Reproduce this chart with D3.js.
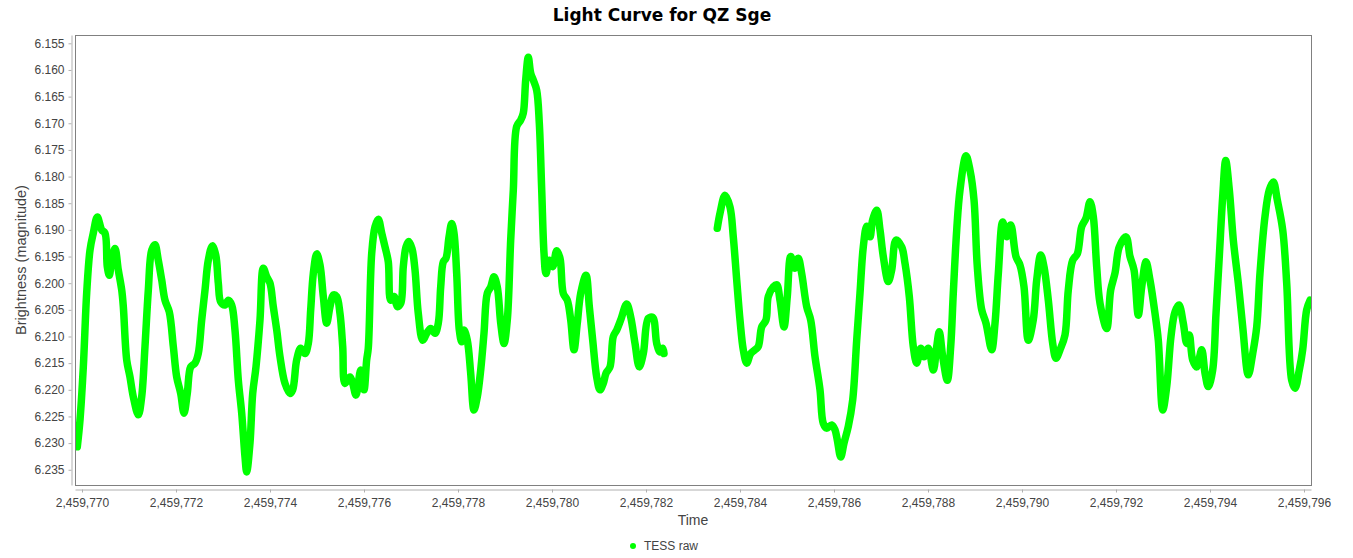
<!DOCTYPE html>
<html>
<head>
<meta charset="utf-8">
<script src="https://cdn.jsdelivr.net/npm/d3@7"></script>
<style>
  body { margin: 0; background: #fff; }
  svg { display: block; }
</style>
</head>
<body>
<div id="chart"></div>
<script>
const title = "Light Curve for QZ Sge";
const seriesName = "TESS raw";
const t0 = 2459770;

// days since t0
const days = [
  -0.100, -0.043, 0.028, 0.100, 0.170, 0.240, 0.326, 0.419, 0.489, 0.538,
  0.581, 0.632, 0.702, 0.772, 0.845, 0.879, 0.951, 1.021, 1.091, 1.198,
  1.270, 1.340, 1.411, 1.483, 1.553, 1.623, 1.696, 1.766, 1.857, 1.943,
  2.015, 2.100, 2.170, 2.240, 2.313, 2.404, 2.474, 2.547, 2.617, 2.687,
  2.772, 2.845, 2.900, 2.951, 3.043, 3.113, 3.185, 3.255, 3.326, 3.398,
  3.468, 3.504, 3.574, 3.632, 3.702, 3.787, 3.857, 3.930, 4.000, 4.070,
  4.143, 4.213, 4.319, 4.426, 4.483, 4.568, 4.653, 4.745, 4.815, 4.866,
  4.921, 4.994, 5.064, 5.134, 5.206, 5.277, 5.347, 5.419, 5.489, 5.547,
  5.596, 5.702, 5.760, 5.830, 5.930, 6.000, 6.057, 6.091, 6.164, 6.234,
  6.304, 6.377, 6.447, 6.517, 6.568, 6.638, 6.709, 6.781, 6.836, 6.894,
  6.951, 7.021, 7.085, 7.155, 7.249, 7.334, 7.419, 7.511, 7.581, 7.632,
  7.687, 7.745, 7.809, 7.866, 7.915, 7.972, 8.028, 8.079, 8.128, 8.198,
  8.270, 8.340, 8.411, 8.483, 8.553, 8.623, 8.696, 8.766, 8.836, 8.909,
  8.979, 9.049, 9.121, 9.177, 9.249, 9.334, 9.389, 9.440, 9.496, 9.547,
  9.602, 9.674, 9.730, 9.781, 9.830, 9.872, 9.943, 10.015, 10.100, 10.170,
  10.240, 10.326, 10.398, 10.468, 10.538, 10.611, 10.723, 10.794, 10.866, 10.951,
  11.021, 11.091, 11.149, 11.234, 11.304, 11.377, 11.462, 11.589, 11.674, 11.766,
  11.857, 11.943, 12.049, 12.143, 12.228, 12.298, 12.355, 12.383,
  13.517, 13.574, 13.681, 13.787, 13.857, 13.930, 14.000, 14.070, 14.143, 14.228,
  14.319, 14.389, 14.462, 14.553, 14.602, 14.709, 14.781, 14.851, 14.936, 15.006,
  15.079, 15.170, 15.240, 15.313, 15.419, 15.504, 15.596, 15.702, 15.772, 15.845,
  15.951, 16.021, 16.070, 16.143, 16.213, 16.304, 16.398, 16.483, 16.553, 16.623,
  16.696, 16.766, 16.823, 16.909, 16.979, 17.049, 17.155, 17.228, 17.319, 17.440,
  17.511, 17.602, 17.687, 17.760, 17.845, 17.915, 18.006, 18.113, 18.185, 18.240,
  18.313, 18.411, 18.483, 18.538, 18.611, 18.681, 18.809, 18.894, 18.979, 19.049,
  19.143, 19.234, 19.355, 19.426, 19.496, 19.589, 19.674, 19.760, 19.872, 19.957,
  20.043, 20.134, 20.240, 20.313, 20.398, 20.468, 20.560, 20.653, 20.723, 20.809,
  20.915, 20.985, 21.079, 21.177, 21.270, 21.362, 21.447, 21.517, 21.589, 21.660,
  21.802, 21.887, 21.979, 22.070, 22.213, 22.298, 22.383, 22.474, 22.547, 22.638,
  22.723, 22.830, 22.900, 22.994, 23.079, 23.170, 23.255, 23.340, 23.432, 23.504,
  23.560, 23.632, 23.717, 23.823, 23.894, 23.964, 24.057, 24.128, 24.198, 24.270,
  24.334, 24.411, 24.496, 24.602, 24.696, 24.815, 24.909, 24.994, 25.064, 25.170,
  25.262, 25.347, 25.432, 25.547, 25.632, 25.738, 25.809, 25.900, 25.972, 26.057,
  26.128
];

const mags = [
  6.2307, 6.2257, 6.2157, 6.2018, 6.1938, 6.1906, 6.1876, 6.1900, 6.1906, 6.1969,
  6.1985, 6.1957, 6.1935, 6.1975, 6.2013, 6.2044, 6.2144, 6.2176, 6.2213, 6.2247,
  6.2213, 6.2119, 6.2013, 6.1938, 6.1928, 6.1957, 6.1994, 6.2032, 6.2054, 6.2119,
  6.2176, 6.2207, 6.2244, 6.2207, 6.2157, 6.2150, 6.2132, 6.2069, 6.2013, 6.1957,
  6.1930, 6.1947, 6.2000, 6.2035, 6.2041, 6.2032, 6.2041, 6.2088, 6.2182, 6.2244,
  6.2326, 6.2354, 6.2300, 6.2207, 6.2157, 6.2069, 6.1972, 6.1988, 6.2000, 6.2044,
  6.2088, 6.2138, 6.2188, 6.2207, 6.2200, 6.2144, 6.2122, 6.2132, 6.2113, 6.2050,
  6.1982, 6.1945, 6.1966, 6.2025, 6.2075, 6.2044, 6.2022, 6.2025, 6.2057, 6.2119,
  6.2188, 6.2176, 6.2188, 6.2210, 6.2163, 6.2200, 6.2144, 6.2122, 6.1944, 6.1894,
  6.1880, 6.1906, 6.1932, 6.1960, 6.2032, 6.2025, 6.2044, 6.2038, 6.1969, 6.1932,
  6.1922, 6.1935, 6.1975, 6.2057, 6.2107, 6.2094, 6.2085, 6.2094, 6.2075, 6.2007,
  6.1960, 6.1953, 6.1913, 6.1888, 6.1906, 6.1982, 6.2088, 6.2110, 6.2088, 6.2107,
  6.2169, 6.2238, 6.2213, 6.2163, 6.2094, 6.2019, 6.2007, 6.1988, 6.2007, 6.2075,
  6.2113, 6.2069, 6.1919, 6.1825, 6.1706, 6.1694, 6.1681, 6.1619, 6.1576, 6.1606,
  6.1619, 6.1638, 6.1700, 6.1825, 6.1944, 6.1982, 6.1957, 6.1969, 6.1939, 6.1953,
  6.2019, 6.2032, 6.2069, 6.2125, 6.2075, 6.2019, 6.1985, 6.2044, 6.2107, 6.2176,
  6.2200, 6.2188, 6.2169, 6.2157, 6.2100, 6.2088, 6.2069, 6.2039, 6.2063, 6.2113,
  6.2157, 6.2132, 6.2066, 6.2064, 6.2113, 6.2129, 6.2122, 6.2132,
  6.1897, 6.1869, 6.1835, 6.1857, 6.1913, 6.1994, 6.2069, 6.2125, 6.2150, 6.2132,
  6.2125, 6.2119, 6.2082, 6.2069, 6.2025, 6.2007, 6.2003, 6.2032, 6.2082, 6.2025,
  6.1950, 6.1972, 6.1953, 6.1982, 6.2044, 6.2069, 6.2138, 6.2200, 6.2263, 6.2272,
  6.2266, 6.2275, 6.2294, 6.2326, 6.2300, 6.2269, 6.2219, 6.2107, 6.2019, 6.1932,
  6.1893, 6.1913, 6.1881, 6.1863, 6.1900, 6.1950, 6.1997, 6.1975, 6.1919, 6.1932,
  6.1963, 6.2025, 6.2119, 6.2150, 6.2122, 6.2138, 6.2122, 6.2163, 6.2119, 6.2091,
  6.2138, 6.2182, 6.2119, 6.2019, 6.1900, 6.1825, 6.1761, 6.1788, 6.1844, 6.1969,
  6.2050, 6.2075, 6.2125, 6.2075, 6.1982, 6.1885, 6.1913, 6.1891, 6.1950, 6.1966,
  6.2007, 6.2107, 6.2069, 6.1994, 6.1947, 6.1969, 6.2032, 6.2113, 6.2141, 6.2125,
  6.2097, 6.2013, 6.1957, 6.1945, 6.1894, 6.1878, 6.1847, 6.1875, 6.1969, 6.2038,
  6.2085, 6.2013, 6.1981, 6.1932, 6.1913, 6.1950, 6.1975, 6.2060, 6.2007, 6.1960,
  6.1994, 6.2057, 6.2107, 6.2238, 6.2194, 6.2100, 6.2054, 6.2041, 6.2075, 6.2113,
  6.2097, 6.2144, 6.2157, 6.2125, 6.2169, 6.2194, 6.2163, 6.2057, 6.1950, 6.1838,
  6.1770, 6.1825, 6.1919, 6.2000, 6.2082, 6.2172, 6.2132, 6.2082, 6.1981, 6.1875,
  6.1825, 6.1810, 6.1844, 6.1900, 6.2000, 6.2182, 6.2197, 6.2163, 6.2125, 6.2050,
  6.2032
];

const xTicks = [2459770, 2459772, 2459774, 2459776, 2459778, 2459780, 2459782,
  2459784, 2459786, 2459788, 2459790, 2459792, 2459794, 2459796];
const yTicks = [6.155, 6.160, 6.165, 6.170, 6.175, 6.180, 6.185, 6.190, 6.195,
  6.200, 6.205, 6.210, 6.215, 6.220, 6.225, 6.230, 6.235];

const width = 1353, height = 558;
const plot = {left: 75, right: 1311, top: 35, bottom: 485};
const green = "#00ff00";
const textColor = "#444444";
const font = "'Liberation Sans', Arial, sans-serif";

const data = days.map((d, i) => ({t: t0 + d, mag: mags[i]}));

const svg = d3.select("#chart").append("svg")
  .attr("width", width)
  .attr("height", height)
  .attr("viewBox", [0, 0, width, height]);

const x = d3.scaleLinear()
  .domain([2459769.851, 2459796.149])
  .range([plot.left, plot.right]);

// magnitude axis runs downward
const y = d3.scaleLinear()
  .domain([6.15344, 6.23786])
  .range([plot.top, plot.bottom]);

svg.append("text")
  .attr("x", 662)
  .attr("y", 21)
  .attr("text-anchor", "middle")
  .attr("font-family", "'DejaVu Sans', sans-serif")
  .attr("font-weight", "bold")
  .attr("font-size", 17)
  .attr("fill", "#000")
  .text(title);

svg.append("rect")
  .attr("x", plot.left + 0.5)
  .attr("y", plot.top + 0.5)
  .attr("width", plot.right - plot.left)
  .attr("height", plot.bottom - plot.top)
  .attr("fill", "#fff")
  .attr("stroke", "#808080")
  .attr("stroke-width", 1);

const xAxis = g => g
  .attr("transform", `translate(0,${plot.bottom + 4.5})`)
  .call(d3.axisBottom(x).tickValues(xTicks).tickFormat(d3.format(",")).tickSize(3).tickSizeOuter(0).tickPadding(6))
  .call(g => g.select(".domain").attr("stroke", "#b0b0b0"))
  .call(g => g.selectAll(".tick line").attr("stroke", "#b0b0b0"))
  .call(g => g.selectAll(".tick text")
    .attr("fill", textColor)
    .attr("font-family", font)
    .attr("font-size", 12));

const yAxis = g => g
  .attr("transform", `translate(${plot.left - 3.5},0)`)
  .call(d3.axisLeft(y).tickValues(yTicks).tickFormat(d3.format(".3f")).tickSize(3).tickSizeOuter(0).tickPadding(4))
  .call(g => g.select(".domain").attr("stroke", "#b0b0b0"))
  .call(g => g.selectAll(".tick line").attr("stroke", "#b0b0b0"))
  .call(g => g.selectAll(".tick text")
    .attr("fill", textColor)
    .attr("font-family", font)
    .attr("font-size", 12));

svg.append("g").call(xAxis);
svg.append("g").call(yAxis);

svg.append("text")
  .attr("x", (plot.left + plot.right) / 2)
  .attr("y", 525)
  .attr("text-anchor", "middle")
  .attr("font-family", font)
  .attr("font-size", 14)
  .attr("fill", textColor)
  .text("Time");

svg.append("text")
  .attr("transform", `translate(26,${(plot.top + plot.bottom) / 2}) rotate(-90)`)
  .attr("text-anchor", "middle")
  .attr("font-family", font)
  .attr("font-size", 14.5)
  .attr("fill", textColor)
  .text("Brightness (magnitude)");

// split the series where the observations stop
const segments = [];
data.forEach((d, i) => {
  if (i === 0 || d.t - data[i - 1].t >= 0.5) segments.push([]);
  segments[segments.length - 1].push(d);
});

svg.append("clipPath").attr("id", "clip")
  .append("rect")
  .attr("x", plot.left + 1).attr("y", plot.top + 1)
  .attr("width", plot.right - plot.left - 1)
  .attr("height", plot.bottom - plot.top - 1);

const line = d3.line()
  .curve(d3.curveCatmullRom)
  .x(d => x(d.t))
  .y(d => y(d.mag));

svg.append("g")
  .attr("clip-path", "url(#clip)")
  .selectAll("path")
  .data(segments)
  .join("path")
    .attr("fill", "none")
    .attr("stroke", green)
    .attr("stroke-width", 7.5)
    .attr("stroke-linejoin", "round")
    .attr("stroke-linecap", "round")
    .attr("d", line);

// legend
svg.append("circle")
  .attr("cx", 633)
  .attr("cy", 546)
  .attr("r", 3)
  .attr("fill", green);

svg.append("text")
  .attr("x", 644)
  .attr("y", 550)
  .attr("font-family", font)
  .attr("font-size", 12)
  .attr("fill", textColor)
  .text(seriesName);
</script>
</body>
</html>
